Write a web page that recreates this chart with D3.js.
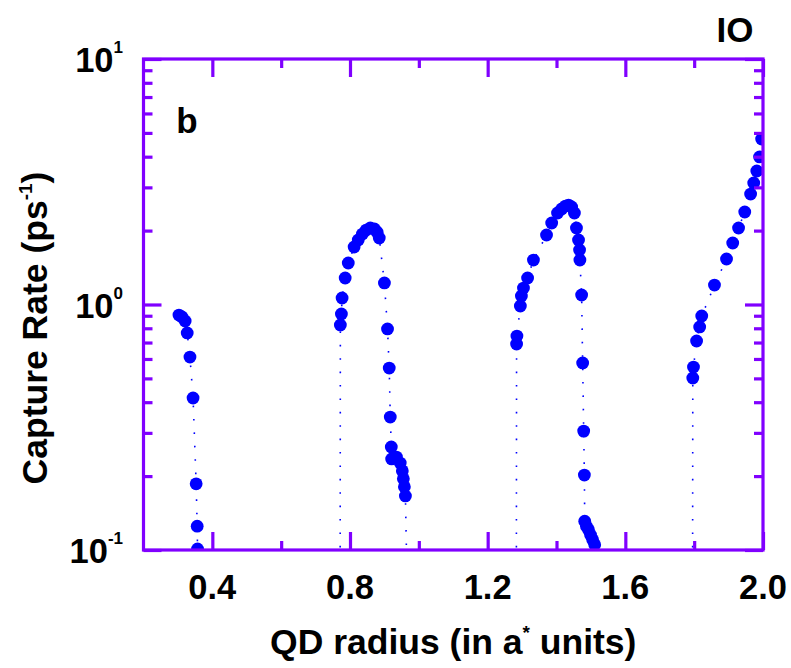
<!DOCTYPE html>
<html>
<head>
<meta charset="utf-8">
<script src="https://cdn.jsdelivr.net/npm/d3@7"></script>
<style>
  html, body { margin: 0; padding: 0; background: #fff; }
  svg { display: block; }
  text { font-family: "Liberation Sans", Arial, Helvetica, sans-serif; font-weight: bold; fill: #000; }
</style>
</head>
<body>
<svg id="chart" width="791" height="668"></svg>
<script>
// ---- Data ----
const radius1 = [0.303, 0.312, 0.321, 0.327, 0.335, 0.344, 0.353, 0.356, 0.357, 0.360];
const rate1   = [0.906, 0.890, 0.856, 0.766, 0.611, 0.416, 0.186, 0.125, 0.101, 0.05];

const radius2 = [0.771, 0.772, 0.775, 0.777, 0.786, 0.795, 0.812, 0.824, 0.836, 0.847, 0.859, 0.871, 0.879, 0.885,
                 0.900, 0.909, 0.914, 0.917, 0.920, 0.921, 0.935, 0.946, 0.952, 0.955, 0.958, 0.961, 0.967];
const rate2   = [0.02, 0.825, 0.915, 1.063, 1.282, 1.476, 1.715, 1.832, 1.936, 2.01, 2.05, 2.03, 1.97, 1.866,
                 1.224, 0.795, 0.551, 0.348, 0.263, 0.235, 0.239, 0.226, 0.210, 0.195, 0.181, 0.166, 0.06];

const radius3 = [1.283, 1.284, 1.285, 1.295, 1.298, 1.304, 1.316, 1.333, 1.371, 1.386, 1.403, 1.415, 1.426, 1.435,
                 1.444, 1.452, 1.458, 1.464, 1.467, 1.468, 1.473, 1.476, 1.479, 1.481, 1.482, 1.487, 1.493, 1.499,
                 1.505, 1.511, 1.517];
const rate3   = [0.02, 0.690, 0.744, 0.986, 1.083, 1.167, 1.282, 1.517, 1.919, 2.148, 2.359, 2.449, 2.518, 2.542,
                 2.495, 2.359, 2.049, 1.831, 1.667, 1.517, 1.093, 0.578, 0.305, 0.202, 0.131, 0.125, 0.121, 0.115,
                 0.110, 0.105, 0.06];

const radius4 = [1.795, 1.796, 1.798, 1.807, 1.816, 1.822, 1.859, 1.894, 1.912, 1.929, 1.947, 1.964, 1.973,
                 1.982, 1.990, 1.996];
const rate4   = [0.02, 0.502, 0.556, 0.710, 0.810, 0.898, 1.200, 1.532, 1.780, 2.049, 2.381, 2.818, 3.126,
                 3.498, 3.99, 4.72];

const branches = [[radius1, rate1], [radius2, rate2], [radius3, rate3], [radius4, rate4]];

const xMajorTicks = [0.4, 0.8, 1.2, 1.6, 2.0];
const xMinorTicks = [0.6, 1.0, 1.4, 1.8];
const xTickLabels = ["0.4", "0.8", "1.2", "1.6", "2.0"];
const yMajorTicks = [0.1, 1, 10];
const yTickExponents = ["-1", "0", "1"];
const yMinorTicks = [0.2,0.3,0.4,0.5,0.6,0.7,0.8,0.9,2,3,4,5,6,7,8,9];

// ---- Layout ----
const svg = d3.select("#chart");
const L = 143.5, R = 763, T = 59, B = 550;
const x = d3.scaleLinear().domain([0.2, 2.0]).range([L, R]);
const y = d3.scaleLog().domain([0.1, 10]).range([B, T]);

const axisColor = "#8000ff";
const dotColor = "#0000ff";

svg.append("defs").append("clipPath").attr("id", "plotclip")
  .append("rect").attr("x", L).attr("y", T).attr("width", R - L).attr("height", B - T);

const plot = svg.append("g").attr("clip-path", "url(#plotclip)");

const line = d3.line().x(d => x(d[0])).y(d => y(d[1]));

branches.forEach(([xs, ys]) => {
  const pts = xs.map((v, i) => [v, ys[i]]);
  plot.append("path").datum(pts)
    .attr("d", line)
    .attr("fill", "none")
    .attr("stroke", dotColor)
    .attr("stroke-width", 1.6)
    .attr("stroke-dasharray", "1.6,11.8");
  plot.selectAll(null).data(pts).enter().append("circle")
    .attr("cx", d => x(d[0])).attr("cy", d => y(d[1]))
    .attr("r", 6.4).attr("fill", dotColor);
});

// ---- Axes (frame with inward ticks on all sides) ----
const sw = 3.2;
const ax = svg.append("g").attr("stroke", axisColor).attr("stroke-width", sw).attr("fill", "none");

const bottomAxis = d3.axisBottom(x).tickValues(xMajorTicks).tickSize(-18).tickFormat("");
const bottomMinor = d3.axisBottom(x).tickValues(xMinorTicks).tickSize(-9).tickFormat("");
const topAxis = d3.axisTop(x).tickValues(xMajorTicks).tickSize(-18).tickFormat("");
const topMinor = d3.axisTop(x).tickValues(xMinorTicks).tickSize(-9).tickFormat("");
const leftAxis = d3.axisLeft(y).tickValues(yMajorTicks).tickSize(-18).tickFormat("");
const leftMinor = d3.axisLeft(y).tickValues(yMinorTicks).tickSize(-9).tickFormat("");
const rightAxis = d3.axisRight(y).tickValues(yMajorTicks).tickSize(-18).tickFormat("");
const rightMinor = d3.axisRight(y).tickValues(yMinorTicks).tickSize(-9).tickFormat("");

function styleAxis(g) {
  g.select(".domain").remove();
  g.selectAll(".tick line").attr("stroke", axisColor).attr("stroke-width", sw);
}
svg.append("g").attr("transform", `translate(0,${B})`).call(bottomAxis).call(styleAxis);
svg.append("g").attr("transform", `translate(0,${B})`).call(bottomMinor).call(styleAxis);
svg.append("g").attr("transform", `translate(0,${T})`).call(topAxis).call(styleAxis);
svg.append("g").attr("transform", `translate(0,${T})`).call(topMinor).call(styleAxis);
svg.append("g").attr("transform", `translate(${L},0)`).call(leftAxis).call(styleAxis);
svg.append("g").attr("transform", `translate(${L},0)`).call(leftMinor).call(styleAxis);
svg.append("g").attr("transform", `translate(${R},0)`).call(rightAxis).call(styleAxis);
svg.append("g").attr("transform", `translate(${R},0)`).call(rightMinor).call(styleAxis);

ax.append("rect").attr("x", L).attr("y", T).attr("width", R - L).attr("height", B - T);

// ---- Tick labels ----
svg.append("g").selectAll("text").data(xMajorTicks).enter().append("text")
  .attr("x", d => x(d)).attr("y", 599)
  .attr("text-anchor", "middle").attr("font-size", 34.5)
  .text((d, i) => xTickLabels[i]);

const yl = svg.append("g").selectAll("text").data(yMajorTicks).enter().append("text")
  .attr("x", 123).attr("y", d => y(d) + 13)
  .attr("text-anchor", "end").attr("font-size", 34.5);
yl.append("tspan").text("10");
yl.append("tspan").attr("font-size", 17).attr("dy", -19).text((d, i) => yTickExponents[i]);

// ---- Titles ----
const xt = svg.append("text").attr("x", (L + R) / 2).attr("y", 654)
  .attr("text-anchor", "middle").attr("font-size", 35.5);
xt.append("tspan").text("QD radius (in a");
xt.append("tspan").attr("font-size", 19).attr("dy", -15).text("*");
xt.append("tspan").attr("dy", 15).text(" units)");

const yt = svg.append("text").attr("transform", "translate(47,328) rotate(-90)")
  .attr("text-anchor", "middle").attr("font-size", 35.5);
yt.append("tspan").text("Capture Rate (ps");
yt.append("tspan").attr("font-size", 19).attr("dy", -15).text("-1");
yt.append("tspan").attr("dy", 15).text(")");

svg.append("text").attr("x", 187).attr("y", 133).attr("text-anchor", "middle").attr("font-size", 35).text("b");
svg.append("text").attr("x", 735).attr("y", 42).attr("text-anchor", "middle").attr("font-size", 35).text("IO");
</script>
</body>
</html>
